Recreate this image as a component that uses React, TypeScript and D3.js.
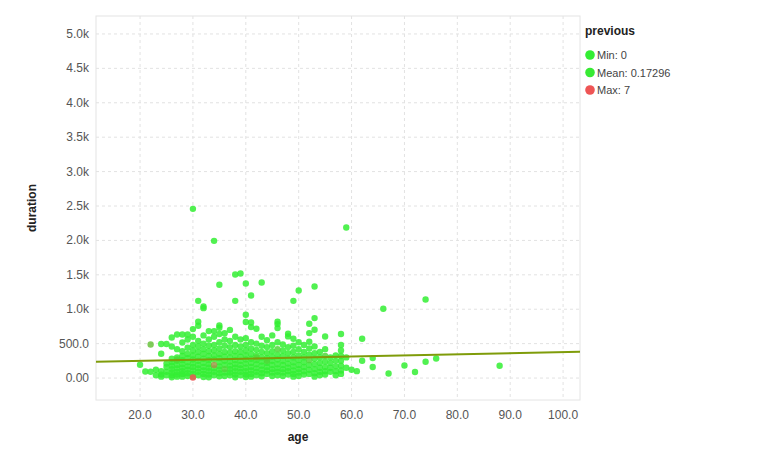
import React from "react";
import * as d3 from "d3";

// observations: [age, duration, previous]
const sparsePoints: [number, number, number][] = [
  [20, 193, 0], [21, 95, 0], [22, 488, 2], [22, 92, 0], [23, 40, 0], [23, 120, 0],
  [24, 494, 0], [24, 353, 0], [24, 100, 0], [24, 50, 0], [24, 20, 0],
  [25, 494, 0], [25, 210, 0], [25, 160, 0], [25, 90, 0], [25, 40, 0],
  [30, 2459, 0], [31, 1122, 0], [32, 1040, 0], [32, 1016, 0], [34, 1994, 0],
  [35, 1355, 0], [38, 1505, 0], [38, 1122, 0], [39, 1519, 0], [40, 1374, 0],
  [40, 920, 0], [41, 1200, 0], [43, 1389, 0], [49, 1122, 0], [50, 1272, 0],
  [53, 1330, 0], [59, 2187, 0], [59, 300, 0], [59, 150, 0], [60, 120, 0],
  [61, 100, 0], [62, 571, 0], [62, 251, 0], [64, 290, 0], [64, 160, 0],
  [66, 1006, 0], [67, 67, 0], [70, 183, 0], [72, 87, 0], [74, 1141, 0],
  [74, 237, 0], [76, 285, 0], [88, 179, 0],
  [30, 8, 7], [34, 189, 4], [27, 270, 1], [42, 300, 1], [44, 250, 1], [36, 130, 1],
  [46, 420, 1], [52, 260, 1], [55, 320, 1],
];

// dense cluster: durations per age (previous = 0)
const clusterAges = [26, 27, 28, 29, 30, 31, 32, 33, 34, 35, 36, 37, 38, 39, 40, 41, 42, 43, 44, 45, 46, 47, 48, 49, 50, 51, 52, 53, 54, 55, 56, 57, 58];
const clusterDurations: number[][] = [
  [590, 459, 280, 230, 180, 130, 80, 40, 10],
  [633, 420, 300, 250, 190, 140, 90, 50, 20],
  [633, 517, 390, 320, 260, 200, 150, 100, 60, 20],
  [633, 560, 440, 350, 290, 230, 170, 120, 70, 30],
  [711, 600, 480, 400, 330, 270, 210, 160, 110, 60, 20],
  [818, 760, 540, 460, 380, 310, 250, 190, 140, 90, 40],
  [620, 500, 420, 350, 280, 220, 160, 110, 60, 15],
  [682, 560, 470, 390, 320, 260, 200, 150, 100, 50, 10],
  [682, 600, 480, 400, 330, 270, 140, 90, 40],
  [764, 730, 640, 520, 430, 350, 290, 230, 170, 120, 70, 25],
  [650, 560, 470, 380, 310, 250, 190, 80, 30],
  [700, 540, 450, 370, 300, 240, 180, 130, 80, 40],
  [600, 480, 390, 320, 260, 200, 150, 100, 50, 10],
  [560, 460, 380, 310, 250, 190, 140, 90, 40],
  [815, 580, 480, 400, 330, 270, 210, 150, 100, 50, 15],
  [808, 740, 520, 430, 350, 280, 220, 160, 110, 60, 20],
  [716, 500, 410, 330, 260, 200, 140, 90, 40],
  [600, 470, 380, 300, 240, 180, 120, 70, 25],
  [550, 450, 360, 290, 220, 160, 110, 60],
  [620, 480, 390, 310, 250, 190, 130, 80, 30],
  [818, 784, 726, 520, 340, 270, 200, 140, 90, 40],
  [488, 400, 320, 250, 190, 130, 80, 30],
  [643, 605, 450, 360, 280, 210, 150, 100, 50],
  [571, 470, 380, 300, 230, 170, 110, 60, 20],
  [520, 420, 330, 260, 190, 130, 80, 30],
  [480, 380, 300, 230, 160, 100, 50],
  [788, 653, 527, 430, 340, 190, 120, 60],
  [871, 701, 460, 360, 280, 200, 130, 70, 20],
  [380, 300, 220, 150, 90, 40],
  [604, 420, 240, 160, 100, 50],
  [300, 220, 150, 90],
  [330, 250, 170, 100, 40],
  [639, 480, 400, 320, 250, 180, 110, 60],
];

const xTicks = [20, 30, 40, 50, 60, 70, 80, 90, 100];
const xTickLabels = ["20.0", "30.0", "40.0", "50.0", "60.0", "70.0", "80.0", "90.0", "100.0"];
const yTicks = [0, 500, 1000, 1500, 2000, 2500, 3000, 3500, 4000, 4500, 5000];
const yTickLabels = ["0.00", "500.0", "1.0k", "1.5k", "2.0k", "2.5k", "3.0k", "3.5k", "4.0k", "4.5k", "5.0k"];
const trendAges = [11.67, 103.2];
const trendDurations = [237, 382];
const legendLabels = ["Min: 0", "Mean: 0.17296", "Max: 7"];
const legendValues = [0, 0.17296, 7];

export default function App() {
  const left = 96, right = 580, top = 16, bottom = 400;
  const x = d3.scaleLinear().domain([11.67, 103.2]).range([left, right]);
  const y = d3.scaleLinear().domain([-319, 5261]).range([bottom, top]);
  const color = d3.scaleLinear<string>().domain([0, 7]).range(["#33ee33", "#ee5555"]).interpolate(d3.interpolateRgb);

  const points: [number, number, number][] = [];
  clusterAges.forEach((a, i) => clusterDurations[i].forEach((dd) => points.push([a, dd, 0])));
  sparsePoints.forEach((p) => points.push(p));
  points.sort((a, b) => a[2] - b[2]);

  const line = d3.line<number>().x((_, i) => x(trendAges[i])).y((d) => y(d));
  const font = "Arial, 'Liberation Sans', sans-serif";

  return (
    <svg width={768} height={461} style={{ position: "absolute", left: 0, top: 0 }} fontFamily={font}>
      <rect x={0} y={0} width={768} height={461} fill="#fff" />
      {xTicks.map((t) => (
        <line key={"gx" + t} x1={x(t)} x2={x(t)} y1={top} y2={bottom} stroke="#e2e2e2" strokeDasharray="3,3" />
      ))}
      {yTicks.map((t) => (
        <line key={"gy" + t} x1={left} x2={right} y1={y(t)} y2={y(t)} stroke="#e2e2e2" strokeDasharray="3,3" />
      ))}
      <rect x={left} y={top} width={right - left} height={bottom - top} fill="none" stroke="#e4e4e4" />
      {points.map((p, i) => (
        <circle key={i} cx={x(p[0])} cy={y(p[1])} r={3.2} fill={color(p[2])} fillOpacity={0.85} />
      ))}
      <path d={line(trendDurations) || ""} stroke="#7f9c0a" strokeWidth={2} fill="none" />
      {xTicks.map((t, i) => (
        <text key={"tx" + t} x={x(t)} y={419} textAnchor="middle" fontSize={12} fill="#555">{xTickLabels[i]}</text>
      ))}
      {yTicks.map((t, i) => (
        <text key={"ty" + t} x={89} y={y(t) + 4} textAnchor="end" fontSize={12} fill="#555">{yTickLabels[i]}</text>
      ))}
      <text x={298} y={441} textAnchor="middle" fontSize={12} fontWeight="bold" fill="#222">age</text>
      <text transform={`translate(36,208) rotate(-90)`} textAnchor="middle" fontSize={12} fontWeight="bold" fill="#222">duration</text>
      <text x={585} y={35} fontSize={12} fontWeight="bold" fill="#222">previous</text>
      {legendLabels.map((l, i) => (
        <g key={l}>
          <circle cx={590} cy={55 + i * 17.5} r={4.8} fill={color(legendValues[i])} />
          <text x={597} y={59 + i * 17.5} fontSize={11} fill="#444">{l}</text>
        </g>
      ))}
    </svg>
  );
}
